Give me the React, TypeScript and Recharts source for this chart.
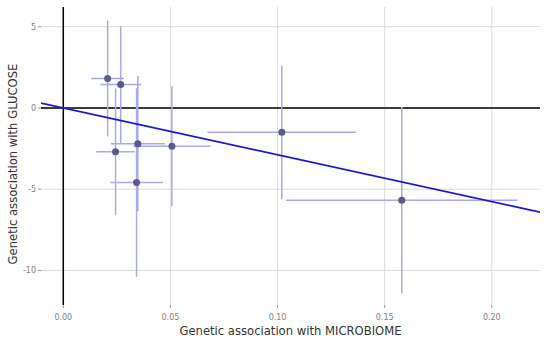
import {
  ScatterChart,
  Scatter,
  XAxis,
  YAxis,
  CartesianGrid,
  ReferenceLine,
  ErrorBar,
} from 'recharts';

// SNP estimates: exposure (microbiome) vs outcome (glucose)
const betaX = [0.0207, 0.0268, 0.0244, 0.0348, 0.0342, 0.0507, 0.102, 0.158];
const seX = [0.0076, 0.0095, 0.009, 0.0126, 0.0123, 0.018, 0.0347, 0.054];
const betaY = [1.81, 1.44, -2.7, -2.2, -4.59, -2.35, -1.5, -5.68];
const seY = [3.56, 3.6, 3.9, 4.16, 5.8, 3.68, 4.1, 5.74];

const ivwSlope = -28.8;

const xTicks = [0, 0.05, 0.1, 0.15, 0.2];
const yTicks = [-10, -5, 0, 5];
const xDomain: [number, number] = [-0.0104, 0.2225];
const yDomain: [number, number] = [-12.12, 6.21];

const points = betaX.map((x, i) => ({
  x,
  y: betaY[i],
  ex: seX[i],
  ey: seY[i],
}));

const fitSegment = xDomain.map((x) => ({ x, y: ivwSlope * x }));

const FONT = '"DejaVu Sans", Verdana, sans-serif';
const tickStyle = { fontSize: 8, fill: '#7f7f7f', fontFamily: FONT };
const titleSize = 11.6;

function YTitle(props: any) {
  const { viewBox } = props;
  const cx = 13;
  const cy = viewBox.y + viewBox.height / 2 + 8;
  return (
    <text
      x={cx}
      y={cy}
      transform={`rotate(-90, ${cx}, ${cy})`}
      textAnchor="middle"
      dominantBaseline="central"
      fontSize={titleSize}
      fontFamily={FONT}
      fill="#333"
    >
      Genetic association with GLUCOSE
    </text>
  );
}

export default function App() {
  return (
    <div style={{ position: 'absolute', top: 0, left: 0, background: '#fff' }}>
      <ScatterChart
        width={550}
        height={342}
        margin={{ top: 7, right: 10, bottom: 0, left: 0 }}
      >
        <CartesianGrid
          stroke="#dadae2"
          strokeWidth={1}
          horizontalValues={yTicks}
          verticalValues={xTicks}
        />
        <XAxis
          type="number"
          dataKey="x"
          domain={xDomain}
          ticks={xTicks}
          allowDataOverflow
          height={37}
          tick={tickStyle}
          tickFormatter={(v) => Number(v).toFixed(2)}
          tickSize={3}
          tickMargin={6}
          tickLine={{ stroke: '#999' }}
          axisLine={false}
          label={{
            value: 'Genetic association with MICROBIOME',
            position: 'insideBottom',
            offset: 7,
            fontSize: titleSize,
            fontFamily: FONT,
            fill: '#333',
          }}
        />
        <YAxis
          type="number"
          dataKey="y"
          domain={yDomain}
          ticks={yTicks}
          allowDataOverflow
          width={41}
          tick={tickStyle}
          tickSize={3}
          tickMargin={2}
          tickLine={{ stroke: '#999' }}
          axisLine={false}
          label={<YTitle />}
        />
        <ReferenceLine x={0} stroke="#000" strokeWidth={1.5} />
        <ReferenceLine y={0} stroke="#000" strokeWidth={1.5} />
        <Scatter
          data={points}
          fill="#5a5a88"
          shape={(p: any) => <circle cx={p.cx} cy={p.cy} r={3.5} fill="#5a5a88" />}
          isAnimationActive={false}
        >
          <ErrorBar dataKey="ex" direction="x" width={0} stroke="#a9a9ee" strokeWidth={1.5} />
          <ErrorBar dataKey="ey" direction="y" width={0} stroke="#a9a9ee" strokeWidth={1.5} />
        </Scatter>
        <ReferenceLine
          segment={fitSegment}
          stroke="#1a1acc"
          strokeWidth={1.8}
          ifOverflow="hidden"
        />
      </ScatterChart>
    </div>
  );
}
